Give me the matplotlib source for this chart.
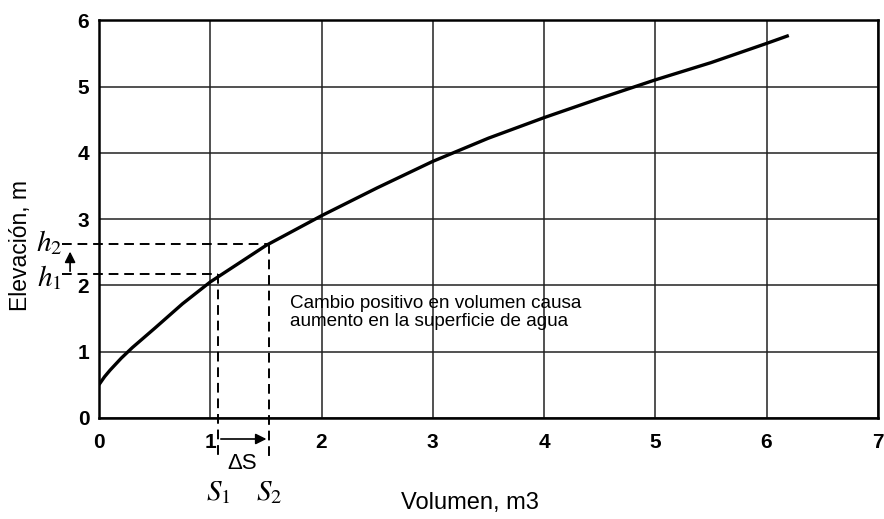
import numpy as np
import matplotlib
matplotlib.use("Agg")
import matplotlib.pyplot as plt

# curva elevación-volumen
volumen = [0, 0.05, 0.1, 0.2, 0.3, 0.5, 0.75, 1.0, 1.5, 2.0, 2.5, 3.0, 3.5, 4.0, 4.5, 5.0, 5.5, 6.0, 6.2]
elevacion = [0.5, 0.62, 0.72, 0.9, 1.06, 1.35, 1.72, 2.05, 2.6, 3.05, 3.47, 3.87, 4.22, 4.53, 4.82, 5.1, 5.36, 5.65, 5.77]

S1, S2 = 1.07, 1.53
h1, h2 = 2.17, 2.63

xticks = [0, 1, 2, 3, 4, 5, 6, 7]
yticks = [0, 1, 2, 3, 4, 5, 6]

plt.rcParams['font.family'] = ['Liberation Sans', 'DejaVu Sans']
plt.rcParams['mathtext.fontset'] = 'stix'

fig = plt.figure(figsize=(8.84, 5.19), dpi=100)
ax = fig.add_axes([0.112, 0.195, 0.881, 0.766])

ax.plot(volumen, elevacion, color='black', lw=2.4, solid_capstyle='butt')

ax.set_xlim(0, 7)
ax.set_ylim(0, 6)
ax.set_xticks(xticks)
ax.set_yticks(yticks)
ax.tick_params(labelsize=15, length=0)
ax.tick_params(axis='x', pad=11)
ax.tick_params(axis='y', pad=7)
for lab in ax.get_xticklabels() + ax.get_yticklabels():
    lab.set_fontweight('bold')
ax.grid(True, color='#222222', lw=1.1)
for s in ax.spines.values():
    s.set_linewidth(1.8)

# líneas de referencia h1, h2, S1, S2
dash = dict(color='black', lw=1.4, ls=(0, (5, 3)), clip_on=False)
ax.plot([-0.33, S1], [h1, h1], **dash)
ax.plot([-0.33, S2], [h2, h2], **dash)
ax.plot([S1, S1], [h1, -0.63], **dash)
ax.plot([S2, S2], [h2, -0.63], **dash)

ax.annotate('', xy=(-0.26, h2 - 0.08), xytext=(-0.26, h1),
            arrowprops=dict(arrowstyle='-|>', color='black', lw=1.2, mutation_scale=16),
            annotation_clip=False)
ax.annotate('', xy=(S2, -0.32), xytext=(S1, -0.32),
            arrowprops=dict(arrowstyle='-|>', color='black', lw=1.2, mutation_scale=16),
            annotation_clip=False)

ax.text(-0.45, h2 + 0.02, r'$h_2$', fontsize=21, ha='center', va='center', clip_on=False)
ax.text(-0.45, h1 - 0.05, r'$h_1$', fontsize=21, ha='center', va='center', clip_on=False)
ax.text((S1 + S2) / 2 - 0.01, -0.69, 'ΔS', fontsize=16, ha='center', va='center', clip_on=False)
ax.text(S1, -1.12, r'$S_1$', fontsize=21, ha='center', va='center', clip_on=False)
ax.text(S2, -1.12, r'$S_2$', fontsize=21, ha='center', va='center', clip_on=False)

ax.text(1.72, 1.85, 'Cambio positivo en volumen causa\naumento en la superficie de agua',
        fontsize=13.6, ha='left', va='top', linespacing=1.08)

ax.set_xlabel('Volumen, m3', fontsize=17)
ax.xaxis.set_label_coords(0.476, -0.186)
ax.set_ylabel('Elevación, m', fontsize=16.5)
ax.yaxis.set_label_coords(-0.086, 0.433)

fig.savefig('out.png', dpi=100)
